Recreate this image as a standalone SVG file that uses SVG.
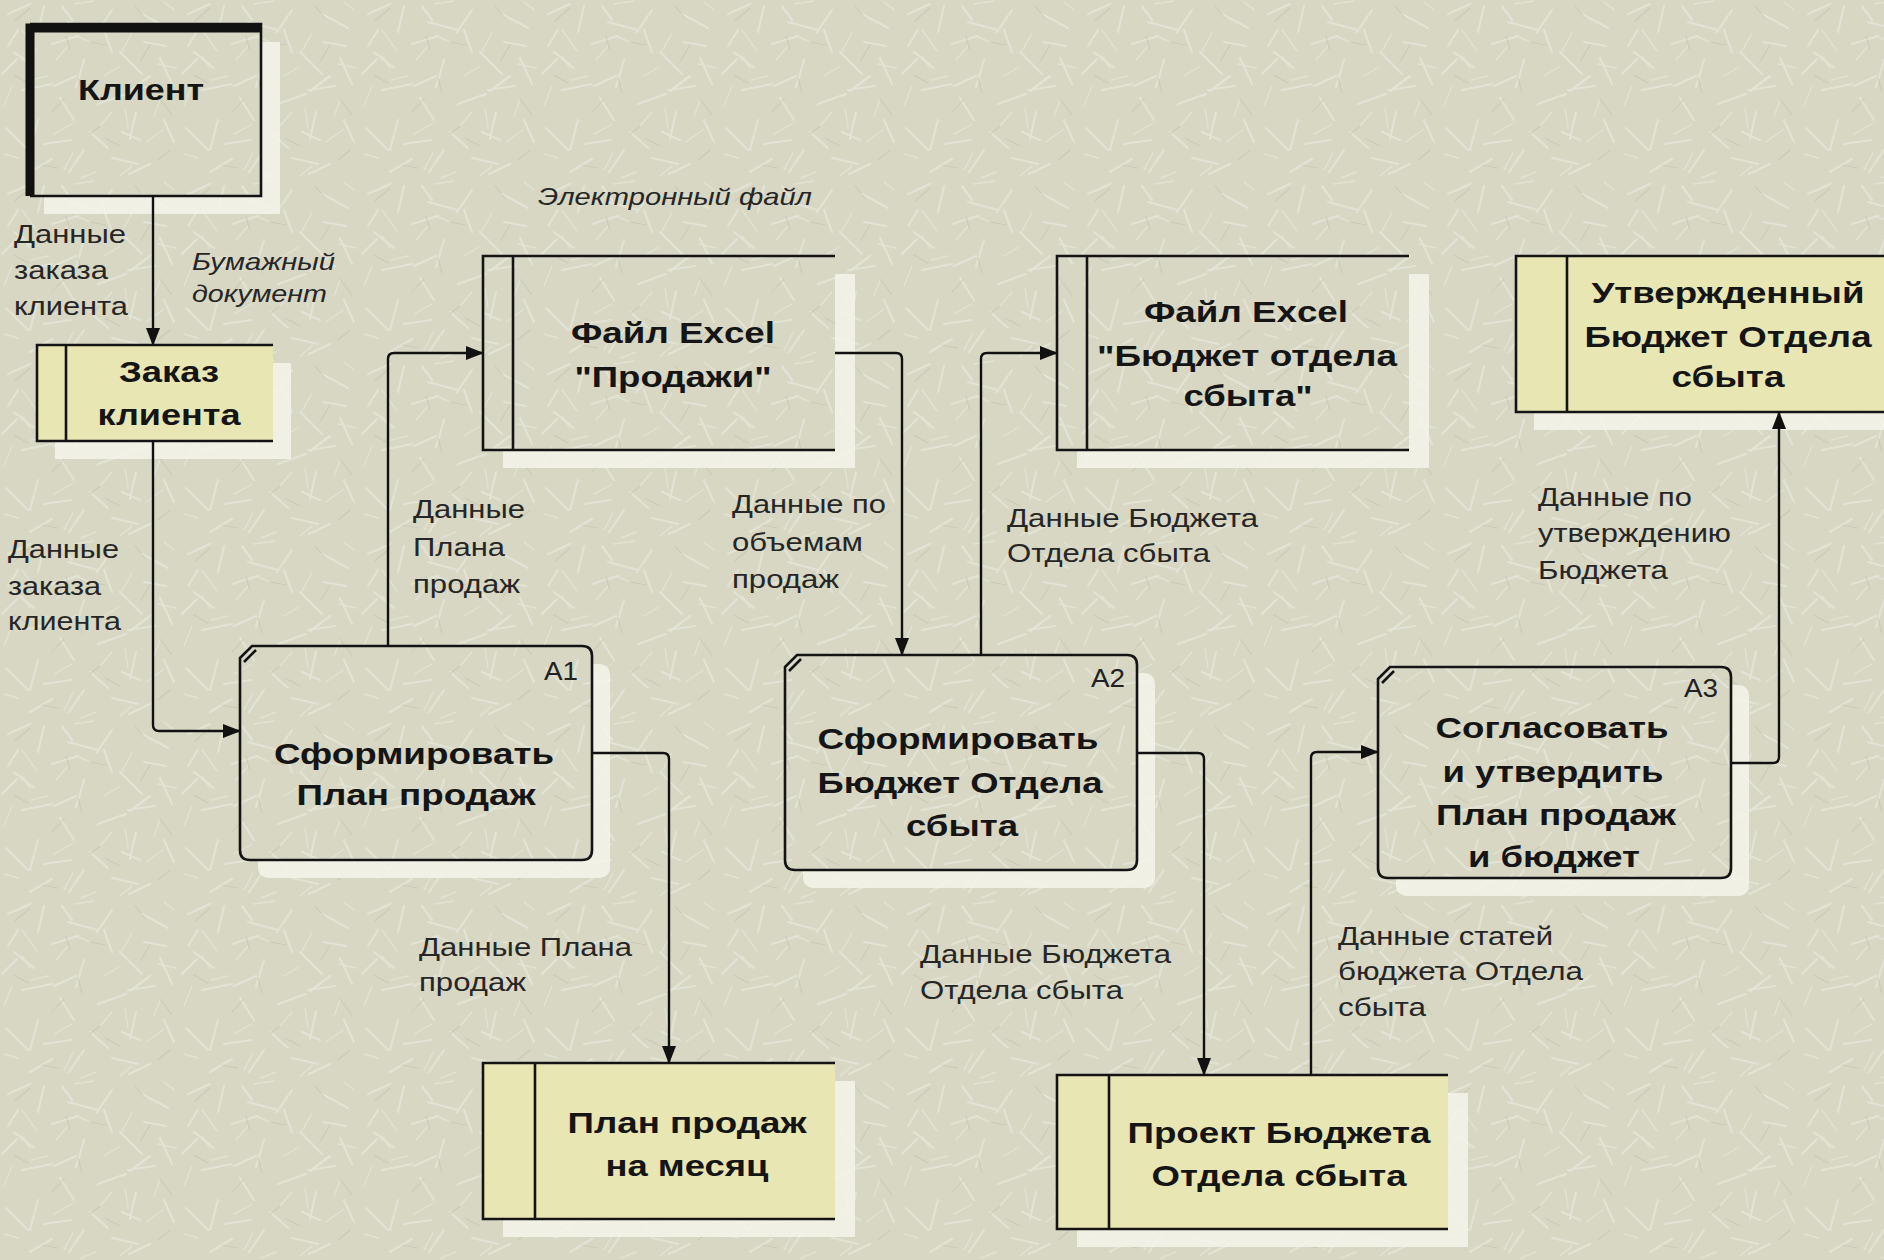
<svg xmlns="http://www.w3.org/2000/svg" width="1884" height="1260" viewBox="0 0 1884 1260">
  <defs>
    <!-- scratched paper texture used for the canvas and transparent boxes -->
    <pattern id="paper" width="180" height="180" patternUnits="userSpaceOnUse">
      <rect width="180" height="180" fill="#d7d7c4"/>
      <path fill="none" stroke="#e9e9dd" stroke-width="2.2" stroke-linecap="round" opacity="0.7"
        d="M8 14l22 -10 M44 6l-6 26 M68 22l30 8 M112 10l-15 22 M142 14l26 14 M166 46l-22 -4 M14 52l20 16 M52 44l26 -8 M84 60l-8 27 M120 52l22 22 M150 76l-20 15 M22 90l30 -6 M60 98l14 22 M98 104l28 -10 M136 112l-6 27 M164 120l10 22 M6 128l22 22 M44 144l27 -4 M84 150l-15 22 M112 158l26 6 M150 164l-21 10 M30 172l22 -13 M76 76l-22 10 M104 30l8 22 M172 84l-12 -26 M2 74l15 -15 M38 120l-8 30 M128 90l27 -4 M90 132l18 16 M62 6l10 14 M140 140l-18 -8 M18 30l-10 16"/>
      <path fill="none" stroke="#e4e4d6" stroke-width="1.4" stroke-linecap="round" opacity="0.85"
        d="M22 30l15 21 M74 4l20 -3 M132 33l-10 18 M158 64l18 4 M4 106l8 -20 M48 76l-17 4 M104 76l15 -9 M72 124l-18 10 M146 142l17 -12 M96 172l-15 6 M128 128l-3 -20 M18 158l-14 -4 M64 170l9 -17 M174 10l-10 -8 M112 112l-12 14 M56 60l12 -14 M90 42l-14 -6 M160 100l-6 16 M30 68l-8 -12 M120 176l12 -10"/>
      <path fill="none" stroke="#c2c2ac" stroke-width="1.1" stroke-linecap="round" opacity="0.6"
        d="M30 8l-15 13 M90 42l16 3 M150 45l-9 15 M52 112l12 -13 M120 146l-15 -8 M14 75l14 8 M82 93l-4 -15 M160 99l12 16 M42 165l16 3 M135 6l10 12 M100 126l-10 8 M170 150l-12 10 M66 36l4 14"/>
    </pattern>
    <marker id="arrow" markerUnits="userSpaceOnUse" markerWidth="18" markerHeight="14" refX="17" refY="7" orient="auto">
      <path d="M0,0 L18,7 L0,14 z" fill="#111"/>
    </marker>
    <style>
      .shadow { fill: #f4f4ea; opacity: 0.85; }
      .box { fill: url(#paper); }
      .yellow { fill: #e8e7b3; }
      .edge { fill: none; stroke: #141414; stroke-width: 2.6; }
      .title { font-family: "Liberation Sans", Arial, sans-serif; font-weight: bold; font-size: 30px; fill: #151515; text-anchor: middle; }
      .lbl { font-family: "Liberation Sans", Arial, sans-serif; font-size: 25px; fill: #262626; }
      .it { font-family: "Liberation Sans", Arial, sans-serif; font-style: italic; font-size: 24px; fill: #262626; }
      .num { font-family: "Liberation Sans", Arial, sans-serif; font-size: 25px; fill: #222; text-anchor: end; }
      .flow { fill: none; stroke: #111; stroke-width: 2.4; marker-end: url(#arrow); }
    </style>
  </defs>

  <rect width="1884" height="1260" fill="url(#paper)"/>

  <!-- external entity -->
  <g id="client">
    <rect class="shadow" x="44" y="42" width="236" height="172"/>
    <rect class="box" x="26" y="24" width="235" height="172"/>
    <path class="edge" d="M30,24 H261 V196 H30"/>
    <path d="M30,196 V28 H261" fill="none" stroke="#111" stroke-width="9"/>
    <text class="title" x="141" y="100" font-size="32" textLength="126" lengthAdjust="spacingAndGlyphs">Клиент</text>
  </g>

  <!-- data stores -->
  <g id="order-store">
    <rect class="shadow" x="55" y="363" width="236" height="96"/>
    <rect class="yellow" x="37" y="345" width="236" height="96"/>
    <path class="edge" d="M273,345 H37 V441 H273 M66,345 V441"/>
    <text class="title" x="169" y="382" textLength="100" lengthAdjust="spacingAndGlyphs">Заказ</text>
    <text class="title" x="169" y="425" textLength="143" lengthAdjust="spacingAndGlyphs">клиента</text>
  </g>

  <g id="sales-file">
    <rect class="shadow" x="503" y="274" width="352" height="194"/>
    <rect class="box" x="483" y="256" width="352" height="194"/>
    <path class="edge" d="M835,256 H483 V450 H835 M513,256 V450"/>
    <text class="title" x="673" y="343" textLength="204" lengthAdjust="spacingAndGlyphs">Файл Excel</text>
    <text class="title" x="673" y="387" textLength="197" lengthAdjust="spacingAndGlyphs">"Продажи"</text>
  </g>

  <g id="budget-file">
    <rect class="shadow" x="1077" y="274" width="352" height="194"/>
    <rect class="box" x="1057" y="256" width="352" height="194"/>
    <path class="edge" d="M1409,256 H1057 V450 H1409 M1087,256 V450"/>
    <text class="title" x="1246" y="322" textLength="204" lengthAdjust="spacingAndGlyphs">Файл Excel</text>
    <text class="title" x="1247" y="366" textLength="300" lengthAdjust="spacingAndGlyphs">"Бюджет отдела</text>
    <text class="title" x="1248" y="406" textLength="129" lengthAdjust="spacingAndGlyphs">сбыта"</text>
  </g>

  <g id="approved-store">
    <rect class="shadow" x="1534" y="274" width="360" height="156"/>
    <rect class="yellow" x="1516" y="256" width="380" height="156"/>
    <path class="edge" d="M1890,256 H1516 V412 H1890 M1567,256 V412"/>
    <text class="title" x="1728" y="303" textLength="273" lengthAdjust="spacingAndGlyphs">Утвержденный</text>
    <text class="title" x="1728" y="347" textLength="287" lengthAdjust="spacingAndGlyphs">Бюджет Отдела</text>
    <text class="title" x="1728" y="387" textLength="113" lengthAdjust="spacingAndGlyphs">сбыта</text>
  </g>

  <g id="plan-store">
    <rect class="shadow" x="503" y="1081" width="352" height="156"/>
    <rect class="yellow" x="483" y="1063" width="352" height="156"/>
    <path class="edge" d="M835,1063 H483 V1219 H835 M535,1063 V1219"/>
    <text class="title" x="687" y="1133" textLength="239" lengthAdjust="spacingAndGlyphs">План продаж</text>
    <text class="title" x="687" y="1176" textLength="163" lengthAdjust="spacingAndGlyphs">на месяц</text>
  </g>

  <g id="draft-store">
    <rect class="shadow" x="1077" y="1093" width="391" height="154"/>
    <rect class="yellow" x="1057" y="1075" width="391" height="154"/>
    <path class="edge" d="M1448,1075 H1057 V1229 H1448 M1109,1075 V1229"/>
    <text class="title" x="1279" y="1143" textLength="303" lengthAdjust="spacingAndGlyphs">Проект Бюджета</text>
    <text class="title" x="1279" y="1186" textLength="255" lengthAdjust="spacingAndGlyphs">Отдела сбыта</text>
  </g>

  <!-- processes -->
  <g id="a1">
    <rect class="shadow" x="258" y="664" width="352" height="214" rx="10"/>
    <path class="box" d="M240,658 L252,646 H582 Q592,646 592,656 V850 Q592,860 582,860 H250 Q240,860 240,850 Z"/>
    <path class="edge" d="M240,658 L252,646 H582 Q592,646 592,656 V850 Q592,860 582,860 H250 Q240,860 240,850 Z M244,662 L256,650"/>
    <text class="num" x="578" y="680" textLength="34" lengthAdjust="spacingAndGlyphs">A1</text>
    <text class="title" x="414" y="764" textLength="280" lengthAdjust="spacingAndGlyphs">Сформировать</text>
    <text class="title" x="416" y="805" textLength="239" lengthAdjust="spacingAndGlyphs">План продаж</text>
  </g>

  <g id="a2">
    <rect class="shadow" x="803" y="673" width="352" height="215" rx="10"/>
    <path class="box" d="M785,667 L797,655 H1127 Q1137,655 1137,665 V860 Q1137,870 1127,870 H795 Q785,870 785,860 Z"/>
    <path class="edge" d="M785,667 L797,655 H1127 Q1137,655 1137,665 V860 Q1137,870 1127,870 H795 Q785,870 785,860 Z M789,671 L801,659"/>
    <text class="num" x="1125" y="687" textLength="34" lengthAdjust="spacingAndGlyphs">A2</text>
    <text class="title" x="958" y="749" textLength="281" lengthAdjust="spacingAndGlyphs">Сформировать</text>
    <text class="title" x="960" y="793" textLength="285" lengthAdjust="spacingAndGlyphs">Бюджет Отдела</text>
    <text class="title" x="962" y="836" textLength="112" lengthAdjust="spacingAndGlyphs">сбыта</text>
  </g>

  <g id="a3">
    <rect class="shadow" x="1396" y="685" width="353" height="211" rx="10"/>
    <path class="box" d="M1378,679 L1390,667 H1721 Q1731,667 1731,677 V868 Q1731,878 1721,878 H1388 Q1378,878 1378,868 Z"/>
    <path class="edge" d="M1378,679 L1390,667 H1721 Q1731,667 1731,677 V868 Q1731,878 1721,878 H1388 Q1378,878 1378,868 Z M1382,683 L1394,671"/>
    <text class="num" x="1718" y="697" textLength="34" lengthAdjust="spacingAndGlyphs">A3</text>
    <text class="title" x="1552" y="738" textLength="233" lengthAdjust="spacingAndGlyphs">Согласовать</text>
    <text class="title" x="1553" y="782" textLength="221" lengthAdjust="spacingAndGlyphs">и утвердить</text>
    <text class="title" x="1556" y="825" textLength="240" lengthAdjust="spacingAndGlyphs">План продаж</text>
    <text class="title" x="1554" y="867" textLength="172" lengthAdjust="spacingAndGlyphs">и бюджет</text>
  </g>

  <!-- data flows -->
  <g id="connectors">
    <path class="flow" d="M153,196 V345"/>
    <path class="flow" d="M153,441 V725 Q153,731 159,731 H240"/>
    <path class="flow" d="M388,646 V359 Q388,353 394,353 H483"/>
    <path class="flow" d="M835,353 H896 Q902,353 902,359 V655"/>
    <path class="flow" d="M981,655 V359 Q981,353 987,353 H1057"/>
    <path class="flow" d="M592,753 H663 Q669,753 669,759 V1063"/>
    <path class="flow" d="M1137,753 H1198 Q1204,753 1204,759 V1075"/>
    <path class="flow" d="M1311,1075 V758 Q1311,752 1317,752 H1378"/>
    <path class="flow" d="M1731,763 H1773 Q1779,763 1779,757 V412"/>
  </g>

  <!-- flow labels -->
  <g id="flow-labels">
    <text class="lbl" x="14" y="243" textLength="112" lengthAdjust="spacingAndGlyphs">Данные</text>
    <text class="lbl" x="14" y="279" textLength="94" lengthAdjust="spacingAndGlyphs">заказа</text>
    <text class="lbl" x="14" y="315" textLength="114" lengthAdjust="spacingAndGlyphs">клиента</text>

    <text class="it" x="192" y="270" textLength="143" lengthAdjust="spacingAndGlyphs">Бумажный</text>
    <text class="it" x="192" y="302" textLength="135" lengthAdjust="spacingAndGlyphs">документ</text>

    <text class="it" x="538" y="205" textLength="274" lengthAdjust="spacingAndGlyphs">Электронный файл</text>

    <text class="lbl" x="8" y="558" textLength="111" lengthAdjust="spacingAndGlyphs">Данные</text>
    <text class="lbl" x="8" y="595" textLength="93" lengthAdjust="spacingAndGlyphs">заказа</text>
    <text class="lbl" x="8" y="630" textLength="113" lengthAdjust="spacingAndGlyphs">клиента</text>

    <text class="lbl" x="413" y="518" textLength="112" lengthAdjust="spacingAndGlyphs">Данные</text>
    <text class="lbl" x="413" y="556" textLength="92" lengthAdjust="spacingAndGlyphs">Плана</text>
    <text class="lbl" x="413" y="593" textLength="107" lengthAdjust="spacingAndGlyphs">продаж</text>

    <text class="lbl" x="732" y="513" textLength="154" lengthAdjust="spacingAndGlyphs">Данные по</text>
    <text class="lbl" x="732" y="551" textLength="131" lengthAdjust="spacingAndGlyphs">объемам</text>
    <text class="lbl" x="732" y="588" textLength="107" lengthAdjust="spacingAndGlyphs">продаж</text>

    <text class="lbl" x="1007" y="527" textLength="251" lengthAdjust="spacingAndGlyphs">Данные Бюджета</text>
    <text class="lbl" x="1007" y="562" textLength="203" lengthAdjust="spacingAndGlyphs">Отдела сбыта</text>

    <text class="lbl" x="1538" y="506" textLength="154" lengthAdjust="spacingAndGlyphs">Данные по</text>
    <text class="lbl" x="1538" y="542" textLength="193" lengthAdjust="spacingAndGlyphs">утверждению</text>
    <text class="lbl" x="1538" y="579" textLength="130" lengthAdjust="spacingAndGlyphs">Бюджета</text>

    <text class="lbl" x="419" y="956" textLength="213" lengthAdjust="spacingAndGlyphs">Данные Плана</text>
    <text class="lbl" x="419" y="991" textLength="107" lengthAdjust="spacingAndGlyphs">продаж</text>

    <text class="lbl" x="920" y="963" textLength="251" lengthAdjust="spacingAndGlyphs">Данные Бюджета</text>
    <text class="lbl" x="920" y="999" textLength="203" lengthAdjust="spacingAndGlyphs">Отдела сбыта</text>

    <text class="lbl" x="1338" y="945" textLength="215" lengthAdjust="spacingAndGlyphs">Данные статей</text>
    <text class="lbl" x="1338" y="980" textLength="245" lengthAdjust="spacingAndGlyphs">бюджета Отдела</text>
    <text class="lbl" x="1338" y="1016" textLength="88" lengthAdjust="spacingAndGlyphs">сбыта</text>
  </g>
</svg>
